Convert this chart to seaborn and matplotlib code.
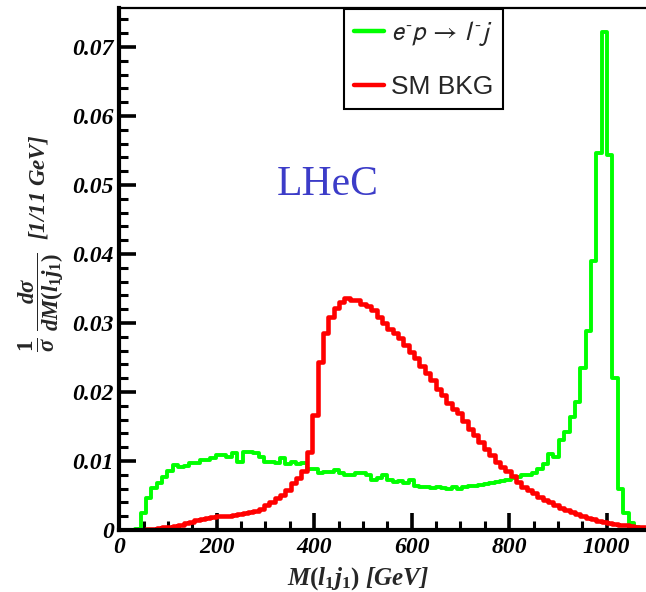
import numpy as np
import pandas as pd
import matplotlib
matplotlib.use("Agg")
import matplotlib.pyplot as plt
import seaborn as sns
from matplotlib.ticker import MultipleLocator, FixedLocator, FixedFormatter
from matplotlib.lines import Line2D

# ---------------- data (normalised, 11 GeV bins from 0 to 1100 GeV) ----------------
bin_width = 11
x_min, x_max = 0, 1100

signal_vals = [
    0.0, 0.0, 0.0, 0.0002, 0.0025, 0.0046, 0.0061, 0.0068, 0.0077, 0.0085,
    0.0094, 0.0092, 0.0093, 0.0097, 0.0097, 0.0101, 0.0101, 0.0105, 0.0109, 0.0109,
    0.0106, 0.0111, 0.0099, 0.0113, 0.0113, 0.0111, 0.0106, 0.0099, 0.0099, 0.0097,
    0.0104, 0.0095, 0.0099, 0.0095, 0.0097, 0.0089, 0.0089, 0.0082, 0.0084, 0.0084,
    0.0087, 0.0082, 0.0080, 0.0080, 0.0082, 0.0082, 0.0080, 0.0072, 0.0076, 0.0079,
    0.0073, 0.0070, 0.0071, 0.0068, 0.0072, 0.0064, 0.0063, 0.0062, 0.0061, 0.0062,
    0.0061, 0.0060, 0.0062, 0.0060, 0.0062, 0.0064, 0.0064, 0.0065, 0.0066, 0.0068,
    0.0069, 0.0071, 0.0073, 0.0076, 0.0077, 0.0079, 0.0080, 0.0083, 0.0088, 0.0096,
    0.0110, 0.0106, 0.0130, 0.0142, 0.0164, 0.0186, 0.0235, 0.0289, 0.0390, 0.0547,
    0.0722, 0.0543, 0.0220, 0.0059, 0.0024, 0.0010, 0.0005, 0.0003, 0.0002, 0.0001,
]

background_vals = [
    0.0, 0.0, 0.0, 0.0, 0.0, 0.0001, 0.0002, 0.0003, 0.0004, 0.0005,
    0.0006, 0.0007, 0.0010, 0.0012, 0.0014, 0.0016, 0.0018, 0.0019, 0.0020, 0.0020,
    0.0021, 0.0022, 0.0023, 0.0024, 0.0026, 0.0028, 0.0031, 0.0036, 0.0041, 0.0046,
    0.0051, 0.0058, 0.0068, 0.0076, 0.0085, 0.0113, 0.0167, 0.0244, 0.0285, 0.0309,
    0.0321, 0.0331, 0.0336, 0.0334, 0.0333, 0.0328, 0.0324, 0.0319, 0.0309, 0.0300,
    0.0292, 0.0285, 0.0278, 0.0268, 0.0258, 0.0249, 0.0237, 0.0227, 0.0217, 0.0205,
    0.0196, 0.0184, 0.0176, 0.0170, 0.0158, 0.0147, 0.0138, 0.0127, 0.0118, 0.0108,
    0.0099, 0.0092, 0.0085, 0.0078, 0.0070, 0.0063, 0.0058, 0.0054, 0.0048, 0.0044,
    0.0040, 0.0036, 0.0032, 0.0029, 0.0026, 0.0023, 0.0020, 0.0018, 0.0016, 0.0013,
    0.0012, 0.0010, 0.0009, 0.0007, 0.0007, 0.0006, 0.0005, 0.0004, 0.0003, 0.0003,
]

series_labels = [r"$e^{\text{-}}p\,\rightarrow\,l^{\text{-}}j$", "SM BKG"]
series_colors = ["#00ff00", "#ff0000"]

x_ticks = [0, 200, 400, 600, 800, 1000]
x_tick_labels = ["0", "200", "400", "600", "800", "1000"]
y_ticks = [0, 0.01, 0.02, 0.03, 0.04, 0.05, 0.06, 0.07]
y_tick_labels = ["0", "0.01", "0.02", "0.03", "0.04", "0.05", "0.06", "0.07"]

# ---------------- build table ----------------
n_bins = len(signal_vals)
centers = [x_min + bin_width * (i + 0.5) for i in range(n_bins)]
df = pd.DataFrame({"M": centers, "signal": signal_vals, "background": background_vals})

# ---------------- style ----------------
sns.set_style("ticks")
plt.rcParams["font.family"] = ["Liberation Serif", "DejaVu Serif"]
plt.rcParams["mathtext.fontset"] = "custom"
plt.rcParams["mathtext.rm"] = "Liberation Serif:bold"
plt.rcParams["mathtext.it"] = "Liberation Serif:italic:bold"
plt.rcParams["mathtext.bf"] = "Liberation Serif:bold"

fig = plt.figure(figsize=(6.46, 5.92), dpi=100)
ax = fig.add_axes([0.1845, 0.1047, 0.830, 0.8813])

sns.histplot(data=df, x="M", weights="signal", binwidth=bin_width, binrange=(x_min, x_max),
             element="step", fill=False, color=series_colors[0], linewidth=2.8, ax=ax)
sns.histplot(data=df, x="M", weights="background", binwidth=bin_width, binrange=(x_min, x_max),
             element="step", fill=False, color=series_colors[1], linewidth=3.3, ax=ax)

ax.set_xlim(x_min, x_max)
ax.set_ylim(0, 0.0756)

# ticks
ax.xaxis.set_major_locator(FixedLocator(x_ticks))
ax.xaxis.set_major_formatter(FixedFormatter(x_tick_labels))
ax.xaxis.set_minor_locator(MultipleLocator(50))
ax.yaxis.set_major_locator(FixedLocator(y_ticks))
ax.yaxis.set_major_formatter(FixedFormatter(y_tick_labels))
ax.yaxis.set_minor_locator(MultipleLocator(0.002))
ax.tick_params(axis="both", which="major", direction="in", length=12, width=2.6,
               top=False, right=False, color="black")
ax.tick_params(axis="both", which="minor", direction="in", length=6.5, width=2.2,
               top=False, right=False, color="black")
ax.tick_params(axis="x", which="major", pad=5)
ax.tick_params(axis="y", which="major", pad=4)
for lab in ax.get_xticklabels() + ax.get_yticklabels():
    lab.set_fontfamily("Liberation Serif")
    lab.set_fontweight("bold")
    lab.set_fontstyle("italic")
    lab.set_fontsize(17)
    lab.set_color("black")

for side in ["left", "bottom"]:
    ax.spines[side].set_linewidth(3.0)
    ax.spines[side].set_color("black")
ax.spines["top"].set_visible(True)
ax.spines["top"].set_linewidth(1.6)
ax.spines["top"].set_color("black")
ax.spines["right"].set_visible(False)

# labels
ax.set_xlabel(r"$M(l_{1}j_{1})$ [GeV]", fontsize=18, fontweight="bold", fontstyle="italic",
              fontfamily="Liberation Serif")
ax.xaxis.set_label_coords(0.446, -0.068)
ax.set_ylabel(r"$\dfrac{1}{\sigma}\ \dfrac{d\sigma}{dM(l_{1}j_{1})}$  [1/11 GeV]", fontsize=16.5,
              fontweight="bold", fontstyle="italic", fontfamily="Liberation Serif")
ax.yaxis.set_label_coords(-0.100, 0.55)

# LHeC annotation
ax.text(0.389, 0.661, "LHeC", transform=ax.transAxes, fontsize=30, color="#3c3cc8",
        fontfamily="Liberation Serif", ha="center", va="center")

# legend
handles = [Line2D([0], [0], color=c, linewidth=3.2) for c in series_colors]
leg = ax.legend(handles, series_labels, loc="upper left", bbox_to_anchor=(0.419, 0.998),
                frameon=True, fancybox=False, edgecolor="black", framealpha=1,
                borderpad=0.38, labelspacing=1.0, handlelength=1.15, handletextpad=0.25,
                borderaxespad=0, prop={"family": "Liberation Sans", "size": 19})
leg.get_frame().set_linewidth(1.5)
leg.get_texts()[0].set_math_fontfamily("stixsans")

fig.savefig("out.png", dpi=100)
